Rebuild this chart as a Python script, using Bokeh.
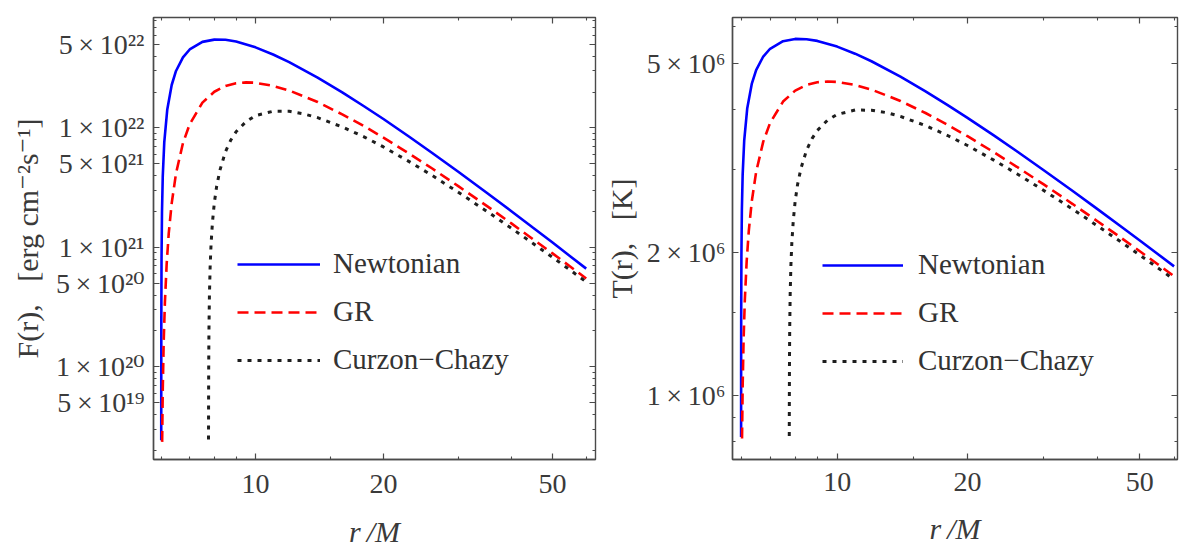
from bokeh.plotting import figure
from bokeh.models import Range1d, FixedTicker, LogAxis, Legend, LegendItem
from bokeh.layouts import row
from bokeh.embed import file_html
from bokeh.resources import INLINE

# ---------------- data ----------------
r_newt = [6.0003, 6.001, 6.003, 6.01, 6.025, 6.05, 6.1, 6.2, 6.35, 6.5, 6.75, 7, 7.5, 8, 8.5, 9,
          10, 11, 12, 14, 16, 18, 20, 23, 26, 30, 35, 40, 45, 50, 55, 60]
F_newt = [2.43e19, 8.10e19, 2.43e20, 8.05e20, 1.99e21, 3.93e21, 7.61e21, 1.43e22, 2.29e22, 3.00e22,
          3.90e22, 4.54e22, 5.26e22, 5.49e22, 5.47e22, 5.29e22, 4.73e22, 4.12e22, 3.56e22, 2.64e22,
          1.99e22, 1.52e22, 1.19e22, 8.45e21, 6.21e21, 4.30e21, 2.87e21, 2.01e21, 1.46e21, 1.10e21,
          8.45e20, 6.65e20]
T_newt = [8.18e5, 1.106e6, 1.455e6, 1.964e6, 2.463e6, 2.918e6, 3.444e6, 4.033e6, 4.536e6, 4.852e6,
          5.182e6, 5.381e6, 5.582e6, 5.644e6, 5.636e6, 5.590e6, 5.437e6, 5.254e6, 5.064e6, 4.701e6,
          4.377e6, 4.094e6, 3.848e6, 3.534e6, 3.272e6, 2.985e6, 2.698e6, 2.468e6, 2.280e6, 2.122e6,
          1.988e6, 1.872e6]

r_gr = [6.03, 6.05, 6.08, 6.12, 6.18, 6.25, 6.35, 6.5, 6.75, 7, 7.5, 8, 8.5, 9, 9.5, 10, 11, 12,
        14, 16, 18, 20, 23, 26, 30, 35, 40, 45, 50, 55, 60]
F_gr = [2.36e19, 6.42e19, 1.59e20, 3.44e20, 7.30e20, 1.32e21, 2.34e21, 4.16e21, 7.48e21, 1.076e22,
        1.63e22, 2.01e22, 2.25e22, 2.37e22, 2.41e22, 2.39e22, 2.25e22, 2.06e22, 1.65e22, 1.30e22,
        1.036e22, 8.31e21, 6.10e21, 4.60e21, 3.26e21, 2.23e21, 1.59e21, 1.17e21, 8.92e20, 6.93e20,
        5.50e20]
T_gr = [8.12e5, 1.043e6, 1.310e6, 1.588e6, 1.916e6, 2.220e6, 2.565e6, 2.960e6, 3.429e6, 3.754e6,
        4.165e6, 4.392e6, 4.515e6, 4.574e6, 4.591e6, 4.582e6, 4.515e6, 4.414e6, 4.177e6, 3.940e6,
        3.719e6, 3.520e6, 3.258e6, 3.035e6, 2.786e6, 2.533e6, 2.328e6, 2.158e6, 2.015e6, 1.892e6,
        1.785e6]

r_cc = [7.7525, 7.755, 7.76, 7.77, 7.79, 7.82, 7.86, 7.92, 8.0, 8.1, 8.25, 8.5, 8.75, 9, 9.5, 10,
        11, 12, 13, 14, 16, 18, 20, 23, 26, 30, 35, 40, 45, 50, 55, 60]
F_cc = [2.47e19, 4.94e19, 9.87e19, 1.97e20, 3.92e20, 6.83e20, 1.07e21, 1.63e21, 2.36e21, 3.24e21,
        4.46e21, 6.35e21, 7.94e21, 9.30e21, 1.13e22, 1.27e22, 1.38e22, 1.38e22, 1.31e22, 1.22e22,
        1.02e22, 8.43e21, 6.94e21, 5.23e21, 4.02e21, 2.90e21, 2.01e21, 1.45e21, 1.08e21, 8.27e20,
        6.47e20, 5.15e20]
T_cc = [8.22e5, 9.77e5, 1.162e6, 1.381e6, 1.641e6, 1.884e6, 2.106e6, 2.342e6, 2.570e6, 2.781e6,
        3.013e6, 3.291e6, 3.480e6, 3.620e6, 3.805e6, 3.912e6, 3.997e6, 3.994e6, 3.947e6, 3.876e6,
        3.707e6, 3.532e6, 3.365e6, 3.135e6, 2.935e6, 2.706e6, 2.470e6, 2.276e6, 2.114e6, 1.977e6,
        1.859e6, 1.756e6]

series_names = ["Newtonian", "GR", "Curzon\u2212Chazy"]

x_major = [10, 20, 50]
x_tick_labels = ["10", "20", "50"]
x_minor = [6, 7, 8, 9, 15, 30, 40, 60]

F_major = [5e19, 1e20, 5e20, 1e21, 5e21, 1e22, 5e22]
F_tick_labels = ["5\u2009×\u200910¹⁹", "1\u2009×\u200910²⁰", "5\u2009×\u200910²⁰", "1\u2009×\u200910²¹",
                 "5\u2009×\u200910²¹", "1\u2009×\u200910²²", "5\u2009×\u200910²²"]
F_minor = [m * 10.0 ** e for e in (19, 20, 21, 22) for m in (2, 3, 4, 6, 7, 8, 9)]

T_major = [1e6, 2e6, 5e6]
T_tick_labels = ["1\u2009×\u200910⁶", "2\u2009×\u200910⁶", "5\u2009×\u200910⁶"]
T_minor = [7e5, 8e5, 9e5, 1.5e6, 3e6, 4e6, 6e6, 7e6]

# ---------------- styling ----------------
FONT = "Liberation Serif, DejaVu Serif"
FRAME = "#4a4a4a"
TXT = "#3a3a3a"
COLORS = ["#0000ff", "#ff0000", "#1e1e1e"]
DASHES = ["solid", "11 6", "4 6"]
WIDTHS = [2.6, 2.6, 3.0]


def style_axis(ax, labels_on=True):
    ax.axis_line_color = FRAME
    ax.axis_line_width = 1.4
    ax.major_tick_in = 6
    ax.major_tick_out = 0
    ax.minor_tick_in = 3
    ax.minor_tick_out = 0
    ax.major_tick_line_color = FRAME
    ax.minor_tick_line_color = FRAME
    ax.major_tick_line_width = 1.2
    ax.minor_tick_line_width = 1.1
    ax.major_label_text_font = FONT
    ax.major_label_text_color = TXT
    ax.axis_label_text_font = FONT
    ax.axis_label_text_color = TXT
    if labels_on:
        ax.major_label_text_font_size = "28px"
        ax.axis_label_text_font_size = "30px"
    else:
        ax.major_label_text_font_size = "0px"
        ax.major_label_text_color = None
        ax.major_label_standoff = 0
        ax.axis_line_color = None


def panel(width, height, bl, br, bt, bb, xr, yr, ymaj, ylabs, ymin, ylabel, rs, ys,
          xstand, xlstand, ystand, ylstand, leg_loc, glyph_w, leg_stand):
    p = figure(width=width, height=height, x_axis_type="log", y_axis_type="log",
               x_range=Range1d(*xr), y_range=Range1d(*yr),
               output_backend="svg", toolbar_location=None,
               min_border_left=bl, min_border_right=br, min_border_top=bt, min_border_bottom=bb)
    p.xgrid.visible = False
    p.ygrid.visible = False
    p.outline_line_color = FRAME
    p.outline_line_width = 1.4
    p.background_fill_color = "white"
    p.border_fill_color = "white"

    xt = FixedTicker(ticks=x_major, minor_ticks=x_minor)
    yt = FixedTicker(ticks=ymaj, minor_ticks=ymin)

    xa = p.xaxis[0]
    xa.ticker = xt
    xa.major_label_overrides = {v: s for v, s in zip(x_major, x_tick_labels)}
    style_axis(xa)
    xa.major_label_standoff = xstand
    xa.axis_label = "r\u2009/M"
    xa.axis_label_text_font_style = "italic"
    xa.axis_label_standoff = xlstand

    ya = p.yaxis[0]
    ya.ticker = yt
    ya.major_label_overrides = {v: s for v, s in zip(ymaj, ylabs)}
    style_axis(ya)
    ya.major_label_standoff = ystand
    ya.axis_label = ylabel
    ya.axis_label_text_font_style = "normal"
    ya.axis_label_standoff = ylstand

    top = LogAxis(ticker=FixedTicker(ticks=x_major, minor_ticks=x_minor))
    style_axis(top, labels_on=False)
    p.add_layout(top, "above")
    right = LogAxis(ticker=FixedTicker(ticks=ymaj, minor_ticks=ymin))
    style_axis(right, labels_on=False)
    p.add_layout(right, "right")

    items = []
    for rr, yy, name, c, d, w in zip(rs, ys, series_names, COLORS, DASHES, WIDTHS):
        g = p.line(rr, yy, line_color=c, line_dash=d, line_width=w)
        items.append(LegendItem(label=name, renderers=[g]))

    leg = Legend(items=items, location=leg_loc, orientation="vertical",
                 glyph_width=glyph_w, glyph_height=20, label_standoff=leg_stand,
                 spacing=15, padding=0, margin=0, border_line_color=None,
                 background_fill_alpha=0, label_text_font=FONT,
                 label_text_font_size="29px", label_text_color="#333333")
    p.add_layout(leg)
    return p


p1 = panel(600, 550, 153, 5, 17, 89,
           (5.754, 63.1), (1.68e19, 8.41e22),
           F_major, F_tick_labels, F_minor,
           "F(r),\u00a0\u00a0\u00a0[erg cm⁻²s⁻¹]",
           [r_newt, r_gr, r_cc], [F_newt, F_gr, F_cc],
           15, 19, 9, 9, (84, 83), 83, 13)

p2 = panel(579, 550, 132, 2, 13, 82,
           (5.732, 61.1), (7.335e5, 6.262e6),
           T_major, T_tick_labels, T_minor,
           "T(r),\u00a0\u00a0\u00a0[K]",
           [r_newt, r_gr, r_cc], [T_newt, T_gr, T_cc],
           13, 18, 7, 6, (90, 82), 81, 15)

layout = row(p1, p2)
open("out.html", "w", encoding="utf-8").write(file_html(layout, INLINE))
